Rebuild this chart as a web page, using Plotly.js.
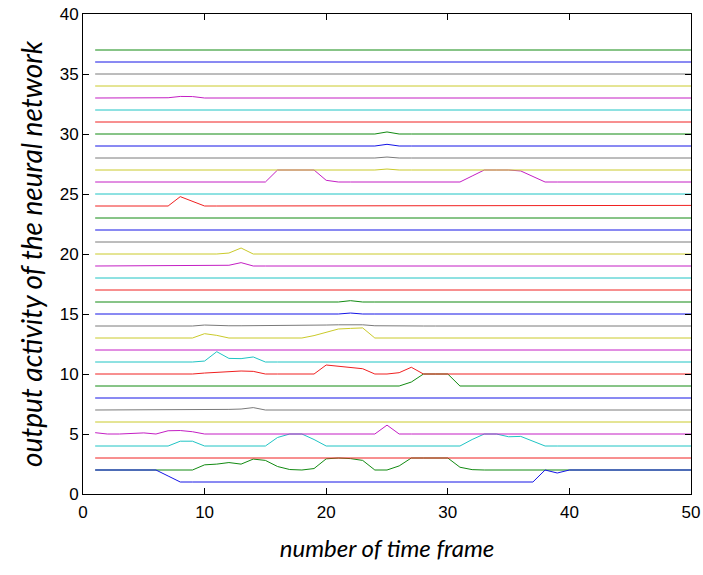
<!DOCTYPE html>
<html>
<head>
<meta charset="utf-8">
<script src="https://cdn.plot.ly/plotly-3.0.1.min.js"></script>
<style>html,body{margin:0;padding:0;background:#fff;}#chart{width:703px;height:575px;}</style>
</head>
<body>
<div id="chart"></div>
<script>
// time frames
const frames = [1,2,3,4,5,6,7,8,9,10,11,12,13,14,15,16,17,18,19,20,21,22,23,24,25,26,27,28,29,30,31,32,33,34,35,36,37,38,39,40,41,42,43,44,45,46,47,48,49,50];

// output of each neuron (offset by neuron index)
const n1  = [2,2,2,2,2,2,1.5,1,1,1, 1,1,1,1,1,1,1,1,1,1, 1,1,1,1,1,1,1,1,1,1, 1,1,1,1,1,1,1,2,1.75,2, 2,2,2,2,2,2,2,2,2,2];
const n2  = [2,2,2,2,2,2,2,2,2,2.43, 2.49,2.62,2.49,2.91,2.8,2.29,2.04,2.0,2.12,2.93, 3.0,2.95,2.8,2.0,2.0,2.34,3,3,3,3, 2.23,2.03,2,2,2,2,2,2,2,2, 2,2,2,2,2,2,2,2,2,2];
const n3  = [3,3,3,3,3,3,3,3,3,3, 3,3,3,3,3,3,3,3,3,3, 3,3,3,3,3,3,3,3,3,3, 3,3,3,3,3,3,3,3,3,3, 3,3,3,3,3,3,3,3,3,3];
const n4  = [4,4,4,4,4,4,4,4.4,4.4,4, 4,4,4,4,4,4.71,5,5,4.54,4, 4,4,4,4,4,4,4,4,4,4, 4,4.54,5,5,4.77,4.8,4.4,4,4,4, 4,4,4,4,4,4,4,4,4,4];
const n5  = [5.11,5,5,5.03,5.09,5,5.27,5.29,5.19,5, 5,5,5,5,5,5,5,5,5,5, 5,5,5,5,5.74,5,5,5,5,5, 5,5,5,5,5,5,5,5,5,5, 5,5,5,5,5,5,5,5,5,5];
const n6  = [6,6,6,6,6,6,6,6,6,6, 6,6,6,6,6,6,6,6,6,6, 6,6,6,6,6,6,6,6,6,6, 6,6,6,6,6,6,6,6,6,6, 6,6,6,6,6,6,6,6,6,6];
const n7  = [7,7,7,7,7,7,7,7,7,7, 7.03,7.05,7.08,7.2,7,7,7,7,7,7, 7,7,7,7,7,7,7,7,7,7, 7,7,7,7,7,7,7,7,7,7, 7,7,7,7,7,7,7,7,7,7];
const n8  = [8,8,8,8,8,8,8,8,8,8, 8,8,8,8,8,8,8,8,8,8, 8,8,8,8,8,8,8,8,8,8, 8,8,8,8,8,8,8,8,8,8, 8,8,8,8,8,8,8,8,8,8];
const n9  = [9,9,9,9,9,9,9,9,9,9, 9,9,9,9,9,9,9,9,9,9, 9,9,9,9,9,9,9.33,10,10,10, 9,9,9,9,9,9,9,9,9,9, 9,9,9,9,9,9,9,9,9,9];
const n10 = [10,10,10,10,10,10,10,10,10,10.08, 10.14,10.22,10.25,10.22,10,10,10,10,10,10.75, 10.64,10.56,10.44,10,10,10.11,10.56,10,10,10, 10,10,10,10,10,10,10,10,10,10, 10,10,10,10,10,10,10,10,10,10];
const n11 = [11,11,11,11,11,11,11,11,11,11.08, 11.86,11.3,11.28,11.42,11,11,11,11,11,11, 11,11,11,11,11,11,11,11,11,11, 11,11,11,11,11,11,11,11,11,11, 11,11,11,11,11,11,11,11,11,11];
const n12 = [12,12,12,12,12,12,12,12,12,12, 12,12,12,12,12,12,12,12,12,12, 12,12,12,12,12,12,12,12,12,12, 12,12,12,12,12,12,12,12,12,12, 12,12,12,12,12,12,12,12,12,12];
const n13 = [13,13,13,13,13,13,13,13,13,13.36, 13.22,13,13,13.05,13,13,13,13,13.2,13.5, 13.75,13.8,13.84,13,13,13,13,13,13,13, 13,13,13,13,13,13,13,13,13,13, 13,13,13,13,13,13,13,13,13,13];
const n14 = [14,14,14,14,14,14,14,14,14,14.08, 14.02,14.02,14.02,14.02,14.02,14.02,14.02,14.02,14.05,14.08, 14.1,14.1,14.1,14.02,14,14,14,14,14,14, 14,14,14,14,14,14,14,14,14,14, 14,14,14,14,14,14,14,14,14,14];
const n15 = [15,15,15,15,15,15,15,15,15,15, 15,15,15,15,15,15,15,15,15,15, 15,15.08,15,15,15,15,15,15,15,15, 15,15,15,15,15,15,15,15,15,15, 15,15,15,15,15,15,15,15,15,15];
const n16 = [16,16,16,16,16,16,16,16,16,16, 16,16,16,16,16,16,16,16,16,16, 16,16.11,16,16,16,16,16,16,16,16, 16,16,16,16,16,16,16,16,16,16, 16,16,16,16,16,16,16,16,16,16];
const n17 = [17,17,17,17,17,17,17,17,17,17, 17,17,17,17,17,17,17,17,17,17, 17,17,17,17,17,17,17,17,17,17, 17,17,17,17,17,17,17,17,17,17, 17,17,17,17,17,17,17,17,17,17];
const n18 = [18,18,18,18,18,18,18,18,18,18, 18,18,18,18,18,18,18,18,18,18, 18,18,18,18,18,18,18,18,18,18, 18,18,18,18,18,18,18,18,18,18, 18,18,18,18,18,18,18,18,18,18];
const n19 = [19,19,19,19,19,19,19,19,19,19, 19,19.06,19.28,19,19,19,19,19,19,19, 19,19,19,19,19,19,19,19,19,19, 19,19,19,19,19,19,19,19,19,19, 19,19,19,19,19,19,19,19,19,19];
const n20 = [20,20,20,20,20,20,20,20,20,20, 20,20.08,20.5,20,20,20,20,20,20,20, 20,20,20,20,20,20,20,20,20,20, 20,20,20,20,20,20,20,20,20,20, 20,20,20,20,20,20,20,20,20,20];
const n21 = [21,21,21,21,21,21,21,21,21,21, 21,21,21,21,21,21,21,21,21,21, 21,21,21,21,21.02,21,21,21,21,21, 21,21,21,21,21,21,21,21,21,21, 21,21,21,21,21,21,21,21,21,21];
const n22 = [22,22,22,22,22,22,22,22,22,22, 22,22,22,22,22,22,22,22,22,22, 22,22,22,22,22,22,22,22,22,22, 22,22,22,22,22,22,22,22,22,22, 22,22,22,22,22,22,22,22,22,22];
const n23 = [23,23,23,23,23,23,23,23,23,23, 23,23,23,23,23,23,23,23,23,23, 23,23,23,23,23,23,23,23,23,23, 23,23,23.04,23.04,23.04,23.04,23,23,23,23, 23,23,23,23,23,23,23,23,23,23];
const n24 = [24,24,24,24,24,24,24,24.78,24.39,24, 24,24,24,24,24,24,24,24,24,24, 24,24,24,24,24,24,24,24,24,24, 24,24,24,24,24,24,24,24,24,24, 24,24,24,24,24,24,24,24,24,24.05];
const n25 = [25,25,25,25,25,25,25,25,25,25, 25,25,25,25,25,25,25,25,25,25, 25,25,25,25,25,25,25,25,25,25, 25,25,25,25,25,25,25,25,25,25, 25,25,25,25,25,25,25,25,25,25];
const n26 = [26,26,26,26,26,26,26,26,26,26, 26,26,26,26,26,27,27,27,27,26.14, 26,26,26,26,26,26,26,26,26,26, 26,26.5,27,27,27,26.92,26.45,26,26,26, 26,26,26,26,26,26,26,26,26,26];
const n27 = [27,27,27,27,27,27,27,27,27,27, 27,27,27,27,27,27,27,27,27,27, 27,27,27,27,27.08,27,27,27,27,27, 27,27,27,27,27,27,27,27,27,27, 27,27,27,27,27,27,27,27,27,27];
const n28 = [28,28,28,28,28,28,28,28,28,28, 28,28,28,28,28,28,28,28,28,28, 28,28,28,28,28.08,28,28,28,28,28, 28,28,28,28,28,28,28,28,28,28, 28,28,28,28,28,28,28,28,28,28];
const n29 = [29,29,29,29,29,29,29,29,29,29, 29,29,29,29,29,29,29,29,29,29, 29,29,29,29,29.14,29,29,29,29,29, 29,29,29,29,29,29,29,29,29,29, 29,29,29,29,29,29,29,29,29,29];
const n30 = [30,30,30,30,30,30,30,30,30,30, 30,30,30,30,30,30,30,30,30,30, 30,30,30,30,30.17,30,30,30,30,30, 30,30,30,30,30,30,30,30,30,30, 30,30,30,30,30,30,30,30,30,30];
const n31 = [31,31,31,31,31,31,31,31,31,31, 31,31,31,31,31,31,31,31,31,31, 31,31,31,31,31.04,31,31,31,31,31, 31,31,31,31,31,31,31,31,31,31, 31,31,31,31,31,31,31,31,31,31];
const n32 = [32,32,32,32,32,32,32,32.04,32,32, 32,32,32,32,32,32,32,32,32,32, 32,32,32,32,32,32,32,32,32,32, 32,32,32,32,32,32,32,32,32,32, 32,32,32,32,32,32,32,32,32,32];
const n33 = [33,33,33,33,33,33,33.02,33.13,33.12,33, 33,33,33,33,33,33,33,33,33,33, 33,33,33,33,33,33,33,33,33,33, 33,33,33,33,33,33,33,33,33,33, 33,33,33,33,33,33,33,33,33,33];
const n34 = [34,34,34,34,34,34,34,34,34,34, 34,34,34,34,34,34,34,34,34,34, 34,34,34,34,34,34,34,34,34,34, 34,34,34,34,34,34,34,34,34,34, 34,34,34,34,34,34,34,34,34,34];
const n35 = [35,35,35,35,35,35,35,35,35,35, 35,35,35,35,35,35,35,35,35,35, 35,35,35,35,35,35,35,35,35,35, 35,35,35,35,35,35,35,35,35,35, 35,35,35,35,35,35,35,35,35,35];
const n36 = [36,36,36,36,36,36,36,36,36,36, 36,36,36,36,36,36,36,36,36,36, 36,36,36,36,36,36,36,36,36,36, 36,36,36,36,36,36,36,36,36,36, 36,36,36,36,36,36,36,36,36,36];
const n37 = [37,37,37,37,37,37,37,37,37,37, 37,37,37,37,37,37,37,37,37,37, 37,37,37,37,37,37,37,37,37,37, 37,37,37,37,37,37,37,37,37,37, 37,37,37,37,37,37,37,37,37,37];

const neurons = [n1,n2,n3,n4,n5,n6,n7,n8,n9,n10,n11,n12,n13,n14,n15,n16,n17,n18,n19,n20,n21,n22,n23,n24,n25,n26,n27,n28,n29,n30,n31,n32,n33,n34,n35,n36,n37];

// colour cycle: blue, green, red, cyan, magenta, yellow, grey
const palette = ['#1414e6','#118a11','#f02020','#1fc4c4','#c41fc4','#caca2a','#7a7a7a'];

const xTicks = [0,10,20,30,40,50];
const yTicks = [0,5,10,15,20,25,30,35,40];

const order = [];
for (let i = 1; i < neurons.length; i++) { order.push(i); if (i === 1) order.push(0); }

const traces = order.map(i => ({
  x: frames,
  y: neurons[i],
  type: 'scatter',
  mode: 'lines',
  line: {color: palette[i % palette.length], width: 1},
  hoverinfo: 'skip',
  showlegend: false
}));

const tickFont = {family: '"Liberation Sans", Arial, sans-serif', size: 17, color: '#000'};
const xTitleFont = {family: 'Lato, "Open Sans", sans-serif', size: 24, color: '#000', style: 'italic'};
const yTitleFont = {family: 'Lato, "Open Sans", sans-serif', size: 28, color: '#000', style: 'italic'};

const layout = {
  width: 703, height: 575,
  margin: {l: 83, r: 12, t: 14, b: 81, pad: 0},
  paper_bgcolor: '#fff', plot_bgcolor: '#fff',
  showlegend: false,
  xaxis: {
    range: [0, 50], tickmode: 'array', tickvals: xTicks, ticktext: xTicks.map(String),
    ticks: 'inside', ticklen: 6, tickcolor: '#000', tickwidth: 1,
    showline: true, linecolor: '#000', linewidth: 1, mirror: 'ticks',
    showgrid: false, zeroline: false, tickfont: tickFont, ticklabelstandoff: 3,
    title: {text: 'number of time frame', font: xTitleFont, standoff: 18}
  },
  yaxis: {
    range: [0, 40], tickmode: 'array', tickvals: yTicks, ticktext: yTicks.map(String),
    ticks: 'inside', ticklen: 6, tickcolor: '#000', tickwidth: 1,
    showline: true, linecolor: '#000', linewidth: 1, mirror: 'ticks',
    showgrid: false, zeroline: false, tickfont: tickFont,
    title: {text: 'output activity of the neural network', font: yTitleFont, standoff: 8}
  }
};

Plotly.newPlot('chart', traces, layout, {displayModeBar: false, staticPlot: true});
</script>
</body>
</html>
